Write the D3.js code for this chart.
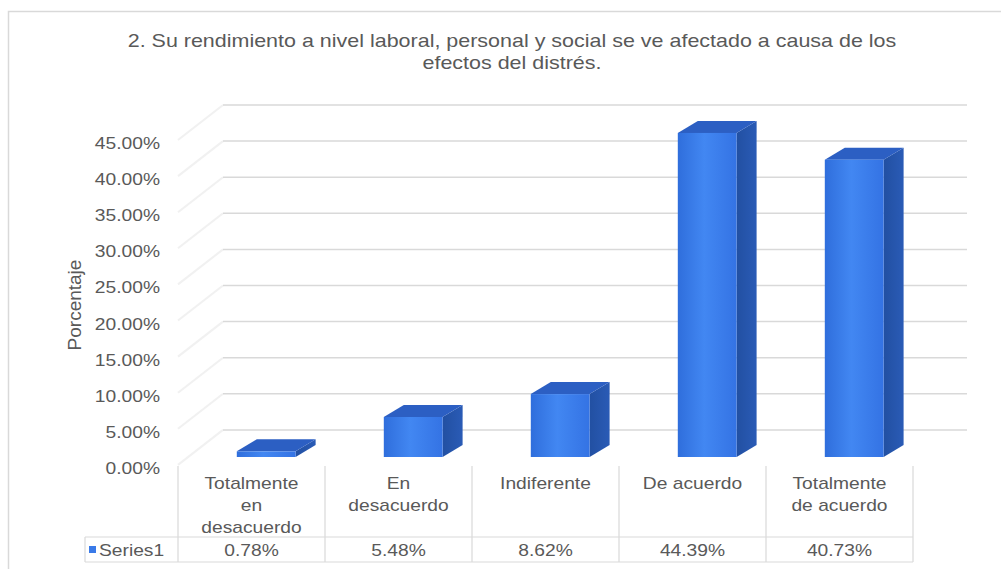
<!DOCTYPE html>
<html>
<head>
<meta charset="utf-8">
<script src="https://cdn.jsdelivr.net/npm/d3@7"></script>
<style>
  html, body { margin: 0; padding: 0; background: #ffffff; }
  svg { display: block; }
  text { font-family: "Liberation Sans", Arial, sans-serif; fill: #595959; }
</style>
</head>
<body>
<svg id="chart" width="1001" height="569"></svg>
<script>
// ---- data ----
const titleLines = ["2. Su rendimiento a nivel laboral, personal y social se ve afectado a causa de los", "efectos del distrés."];
const categories = ["Totalmente en desacuerdo", "En desacuerdo", "Indiferente", "De acuerdo", "Totalmente de acuerdo"];
const categoryLines = [["Totalmente", "en", "desacuerdo"], ["En", "desacuerdo"], ["Indiferente"], ["De acuerdo"], ["Totalmente", "de acuerdo"]];
const values = [0.78, 5.48, 8.62, 44.39, 40.73];
const valueLabels = ["0.78%", "5.48%", "8.62%", "44.39%", "40.73%"];
const yTicks = [0, 5, 10, 15, 20, 25, 30, 35, 40, 45];
const gridTicks = [5, 10, 15, 20, 25, 30, 35, 40, 45, 50];
const seriesName = "Series1";
const axisTitle = "Porcentaje";

// ---- layout ----
const SX = 1.13; // horizontal stretch of the original screenshot's text
const svg = d3.select("#chart");

function stretch(sel) {
  sel.each(function () {
    const w = this.getComputedTextLength();
    if (w > 0) {
      this.setAttribute("textLength", (w * SX).toFixed(1));
      this.setAttribute("lengthAdjust", "spacingAndGlyphs");
    }
  });
  return sel;
}

const defs = svg.append("defs");
const gFront = defs.append("linearGradient").attr("id", "gFront").attr("x1", "0").attr("x2", "1").attr("y1", "0").attr("y2", "0");
gFront.append("stop").attr("offset", "0%").attr("stop-color", "#2f6edc");
gFront.append("stop").attr("offset", "45%").attr("stop-color", "#4287f2");
gFront.append("stop").attr("offset", "100%").attr("stop-color", "#3473e4");
const gSide = defs.append("linearGradient").attr("id", "gSide").attr("x1", "0").attr("x2", "1").attr("y1", "0").attr("y2", "0");
gSide.append("stop").attr("offset", "0%").attr("stop-color", "#2250a2");
gSide.append("stop").attr("offset", "100%").attr("stop-color", "#2a5bb6");

// chart border
svg.append("rect").attr("x", 8.5).attr("y", 11.5).attr("width", 1010).attr("height", 580)
  .attr("fill", "#ffffff").attr("stroke", "#d9d9d9").attr("stroke-width", 1.5);

// title
stretch(svg.append("g").selectAll("text").data(titleLines).join("text")
  .attr("x", 512).attr("y", (d, i) => 40 + i * 22)
  .attr("dy", "0.35em").attr("text-anchor", "middle")
  .attr("font-size", 19).text(d => d));

// scales
const x = d3.scaleBand().domain(categories).range([178, 913]);
const yFront = d3.scaleLinear().domain([0, 50]).range([457, 92]);
const yBack = d3.scaleLinear().domain([0, 50]).range([466, 105]);
const wallX0 = 223, wallX1 = 967;
const sideDX = 45, sideDY = 35;
const depthX = 20, depthY = 12;

// side wall diagonals
svg.append("g").selectAll("line").data(gridTicks).join("line")
  .attr("x1", wallX0).attr("y1", d => yBack(d))
  .attr("x2", wallX0 - sideDX).attr("y2", d => yBack(d) + sideDY)
  .attr("stroke", "#f1f1f1").attr("stroke-width", 2);

// back wall gridlines
svg.append("g").selectAll("line").data(gridTicks).join("line")
  .attr("x1", wallX0).attr("x2", wallX1)
  .attr("y1", d => yBack(d)).attr("y2", d => yBack(d))
  .attr("stroke", "#d9d9d9").attr("stroke-width", 1.5);

// y tick labels
stretch(svg.append("g").selectAll("text").data(yTicks).join("text")
  .attr("x", 160).attr("y", d => yBack(d) + 2)
  .attr("dy", "0.35em").attr("text-anchor", "end")
  .attr("font-size", 17).text(d => d.toFixed(2) + "%"));

// axis title
svg.append("text")
  .attr("transform", "translate(74,305) rotate(-90)")
  .attr("text-anchor", "middle").attr("dy", "0.35em")
  .attr("font-size", 19).text(axisTitle);

// 3D bars
const bw = x.bandwidth() * 0.4;
const bars = svg.append("g").selectAll("g").data(categories.map((c, i) => ({ c, v: values[i] }))).join("g");
bars.each(function (d) {
  const g = d3.select(this);
  const x0 = x(d.c) + x.bandwidth() * 0.4;
  const x1 = x0 + bw;
  const yb = yFront(0), yt = yFront(d.v);
  // side face
  g.append("path")
    .attr("d", `M${x1},${yb} L${x1 + depthX},${yb - depthY} L${x1 + depthX},${yt - depthY} L${x1},${yt} Z`)
    .attr("fill", "url(#gSide)");
  // top face
  g.append("path")
    .attr("d", `M${x0},${yt} L${x0 + depthX},${yt - depthY} L${x1 + depthX},${yt - depthY} L${x1},${yt} Z`)
    .attr("fill", "#2c5fc3");
  // front face
  g.append("rect").attr("x", x0).attr("y", yt).attr("width", bw).attr("height", yb - yt)
    .attr("fill", "url(#gFront)");
});

// data table
const tTop = 466, tRow = 537, tBot = 562, legendX = 85;
const table = svg.append("g").attr("stroke", "#d9d9d9").attr("stroke-width", 1.2);
const edges = categories.map(c => x(c)).concat([x.range()[1]]);
table.selectAll("line.v").data(edges).join("line").attr("class", "v")
  .attr("x1", d => d).attr("x2", d => d).attr("y1", tTop).attr("y2", tBot);
table.append("line").attr("x1", legendX).attr("x2", legendX).attr("y1", tRow).attr("y2", tBot);
table.selectAll("line.h").data([tRow, tBot]).join("line").attr("class", "h")
  .attr("x1", legendX).attr("x2", x.range()[1]).attr("y1", d => d).attr("y2", d => d);

// category labels
const catG = svg.append("g").selectAll("g").data(categories).join("g");
catG.each(function (c, i) {
  stretch(d3.select(this).selectAll("text").data(categoryLines[i]).join("text")
    .attr("x", x(c) + x.bandwidth() / 2).attr("y", (d, j) => 483 + j * 22)
    .attr("dy", "0.35em").attr("text-anchor", "middle")
    .attr("font-size", 17).text(d => d));
});

// value row
stretch(svg.append("g").selectAll("text").data(categories).join("text")
  .attr("x", c => x(c) + x.bandwidth() / 2).attr("y", 550)
  .attr("dy", "0.35em").attr("text-anchor", "middle")
  .attr("font-size", 17).text((c, i) => valueLabels[i]));

// legend key
svg.append("rect").attr("x", 89).attr("y", 546).attr("width", 7).attr("height", 7).attr("fill", "#3a7ae8");
stretch(svg.append("text").attr("x", 99).attr("y", 550).attr("dy", "0.35em")
  .attr("font-size", 17).text(seriesName));
</script>
</body>
</html>
